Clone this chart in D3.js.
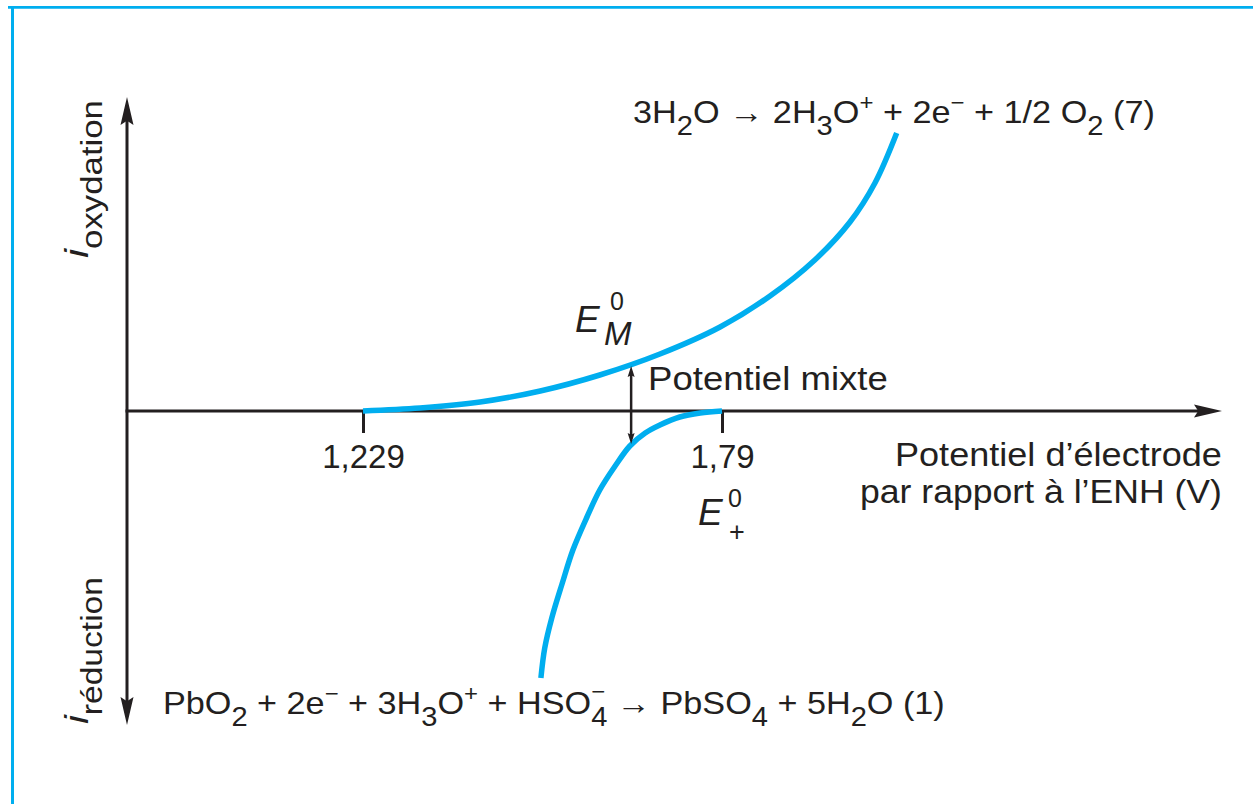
<!DOCTYPE html>
<html>
<head>
<meta charset="utf-8">
<script src="https://cdn.jsdelivr.net/npm/d3@7"></script>
<style>
  html, body { margin: 0; padding: 0; background: #fff; }
  svg { display: block; }
</style>
</head>
<body>
<script>
// Oxidation branch: 3H2O -> 2H3O+ + 2e- + 1/2 O2, potential (V vs ENH) and relative current
const oxidationE = [1.229, 1.318, 1.412, 1.506, 1.599, 1.693, 1.787, 1.865, 1.935, 1.990, 2.029, 2.063];
const oxidationI = [0, 0.03, 0.09, 0.20, 0.36, 0.57, 0.84, 1.15, 1.51, 1.89, 2.28, 2.78];
// Reduction branch: PbO2 + 2e- + 3H3O+ + HSO4- -> PbSO4 + 5H2O
const reductionE = [1.790, 1.756, 1.724, 1.693, 1.670, 1.646, 1.623, 1.599, 1.579, 1.557, 1.540, 1.524, 1.513, 1.507];
const reductionI = [0, -0.02, -0.06, -0.14, -0.22, -0.35, -0.55, -0.79, -1.06, -1.39, -1.73, -2.07, -2.37, -2.67];
// Marked potentials on the horizontal axis
const tickValues = [1.229, 1.79];
const tickLabels = ["1,229", "1,79"];
// Mixed potential and the current span of its double arrow
const mixedE = 1.648;
const mixedArrowI = [0.45, -0.33];

const W = 1253, H = 804;
const INK = "#231f20", BLUE = "#00aeef";
const FONT = "'Liberation Sans', Arial, Helvetica, sans-serif";

const svg = d3.select("body").append("svg")
  .attr("width", W).attr("height", H)
  .attr("font-family", FONT).attr("fill", INK);

// Frame rules (top and left)
svg.append("line").attr("x1", 8).attr("x2", W).attr("y1", 7.3).attr("y2", 7.3)
  .attr("stroke", BLUE).attr("stroke-width", 2.8);
svg.append("line").attr("x1", 12.5).attr("x2", 12.5).attr("y1", 6).attr("y2", H)
  .attr("stroke", BLUE).attr("stroke-width", 3);

const x = d3.scaleLinear().domain([1.229, 1.79]).range([363, 722]);
const y = d3.scaleLinear().domain([0, 1]).range([411, 311]);

const axisX0 = 127, axisX1 = 1222, axisYTop = 97, axisYBot = 725;
const y0 = y(0);

// Axes
const axes = svg.append("g").attr("stroke", INK).attr("stroke-width", 3);
axes.append("line").attr("x1", axisX0).attr("x2", axisX0).attr("y1", axisYTop + 10).attr("y2", axisYBot - 10);
axes.append("line").attr("x1", axisX0 - 1.5).attr("x2", axisX1 - 10).attr("y1", y0).attr("y2", y0);

function arrowHead(tipX, tipY, dir, len, half) {
  // dir: "up" | "down" | "right"
  let pts;
  if (dir === "up") pts = [[tipX, tipY], [tipX + half, tipY + len], [tipX, tipY + len * 0.85], [tipX - half, tipY + len]];
  else if (dir === "down") pts = [[tipX, tipY], [tipX + half, tipY - len], [tipX, tipY - len * 0.85], [tipX - half, tipY - len]];
  else pts = [[tipX, tipY], [tipX - len, tipY - half], [tipX - len * 0.85, tipY], [tipX - len, tipY + half]];
  svg.append("path").attr("d", "M" + pts.map(p => p.join(",")).join("L") + "Z").attr("fill", INK);
}
arrowHead(axisX0, axisYTop, "up", 28, 6.5);
arrowHead(axisX0, axisYBot, "down", 28, 6.5);
arrowHead(axisX1, y0, "right", 28, 6.5);

// Ticks and tick labels
const xAxis = d3.axisBottom(x).tickValues(tickValues).tickSize(22)
  .tickFormat((d, i) => tickLabels[i]);
const gx = svg.append("g").attr("transform", `translate(0,${y0})`).call(xAxis);
gx.select(".domain").remove();
gx.selectAll(".tick line").attr("stroke", INK).attr("stroke-width", 3);
gx.selectAll(".tick text").attr("fill", INK).attr("font-family", FONT)
  .attr("font-size", 33).attr("y", 57).attr("dy", 0);

// Current-potential curves
const line = d3.line().x(d => x(d[0])).y(d => y(d[1])).curve(d3.curveCatmullRom.alpha(0.5));
const oxidation = oxidationE.map((e, i) => [e, oxidationI[i]]);
const reduction = reductionE.map((e, i) => [e, reductionI[i]]);
svg.append("path").datum(oxidation).attr("d", line)
  .attr("fill", "none").attr("stroke", BLUE).attr("stroke-width", 5.5).attr("stroke-linecap", "butt");
svg.append("path").datum(reduction).attr("d", line)
  .attr("fill", "none").attr("stroke", BLUE).attr("stroke-width", 5.5).attr("stroke-linecap", "butt");

// Mixed potential double arrow
const mx = x(mixedE);
svg.append("line").attr("x1", mx).attr("x2", mx)
  .attr("y1", y(mixedArrowI[0]) + 6).attr("y2", y(mixedArrowI[1]) - 6)
  .attr("stroke", INK).attr("stroke-width", 2.5);
arrowHead(mx, y(mixedArrowI[0]), "up", 11, 3.5);
arrowHead(mx, y(mixedArrowI[1]), "down", 11, 3.5);

// Rich text builder: parts are [string, kind] with kind n | sub | sup | stack
function rich(parts, size, opts = {}) {
  const g = svg.append("g");
  const t = g.append("text").attr("font-size", size).attr("fill", INK);
  const sub = opts.sub || { scale: 0.85, shift: 0.36 };
  const sup = opts.sup || { scale: 0.7, shift: -0.4 };
  let cur = 0, pendingDx = 0;
  function span(str, scale, shift, style) {
    const target = shift * size;
    const s = t.append("tspan").text(str).attr("font-size", size * scale)
      .attr("dy", target - cur);
    if (pendingDx) s.attr("dx", pendingDx);
    if (style) s.attr("font-style", style);
    pendingDx = 0;
    cur = target;
    return s;
  }
  parts.forEach(([str, kind, style]) => {
    if (kind === "sub") span(str, sub.scale, sub.shift, style);
    else if (kind === "sup") span(str, sup.scale, sup.shift, style);
    else if (kind === "stack") {
      const a = span(str[0], sub.scale, sub.shift);
      const la = a.node().getComputedTextLength();
      pendingDx = -la;
      const b = span(str[1], sup.scale, sup.shift - 0.08);
      const lb = b.node().getComputedTextLength();
      pendingDx = Math.max(0, la - lb);
    } else span(str, 1, 0, style);
  });
  return { g, t };
}

// Place a rich text so that it spans [left, left+width] on a baseline
function fitH(r, left, width, baseline) {
  const bb = r.t.node().getBBox();
  const s = width / bb.width;
  r.g.attr("transform", `translate(${left - bb.x * s},${baseline}) scale(${s},1)`);
}
// Vertical text reading upward, starting at startY and spanning length
function fitV(r, baseX, startY, length) {
  const bb = r.t.node().getBBox();
  const s = length / bb.width;
  r.g.attr("transform", `translate(${baseX},${startY + bb.x * s}) rotate(-90) scale(${s},1)`);
}

// Reaction (7), oxidation of water
fitH(rich([
  ["3H"], ["2", "sub"], ["O \u2192 2H"], ["3", "sub"], ["O"], ["+", "sup"],
  [" + 2e"], ["\u2212", "sup"], [" + 1/2 O"], ["2", "sub"], [" (7)"]
], 32), 633, 522, 123);

// Reaction (1), reduction of PbO2
fitH(rich([
  ["PbO"], ["2", "sub"], [" + 2e"], ["\u2212", "sup"], [" + 3H"], ["3", "sub"], ["O"], ["+", "sup"],
  [" + HSO"], [["4", "\u2212"], "stack"], [" \u2192 PbSO"], ["4", "sub"], [" + 5H"], ["2", "sub"], ["O (1)"]
], 32), 163, 782, 714);

fitH(rich([["Potentiel mixte"]], 34), 648, 240, 390);
fitH(rich([["Potentiel d\u2019\u00e9lectrode"]], 34), 1222 - 327, 327, 466);
fitH(rich([["par rapport \u00e0 l\u2019ENH (V)"]], 34), 1222 - 362, 362, 503);

// Axis titles
fitV(rich([["i", "n", "italic"], ["oxydation", "sub"]], 34, { sub: { scale: 0.85, shift: 0.42 } }), 88, 258, 158);
fitV(rich([["i", "n", "italic"], ["r\u00e9duction", "sub"]], 34, { sub: { scale: 0.85, shift: 0.42 } }), 88, 724, 147);

// Standard potential symbols: italic E with superscript 0 and a subscript
function symbol(ex, ey, supX, supY, subTxt, subX, subY, subSize, subItalic) {
  svg.append("text").attr("x", ex).attr("y", ey).attr("font-size", 37)
    .attr("font-style", "italic").text("E");
  svg.append("text").attr("x", supX).attr("y", supY).attr("font-size", 25).text("0");
  svg.append("text").attr("x", subX).attr("y", subY).attr("font-size", subSize)
    .attr("font-style", subItalic ? "italic" : "normal").text(subTxt);
}
symbol(575, 332, 610, 310, "M", 604, 345, 33, true);
symbol(698, 525, 728, 507, "+", 729, 541, 27, false);
</script>
</body>
</html>
